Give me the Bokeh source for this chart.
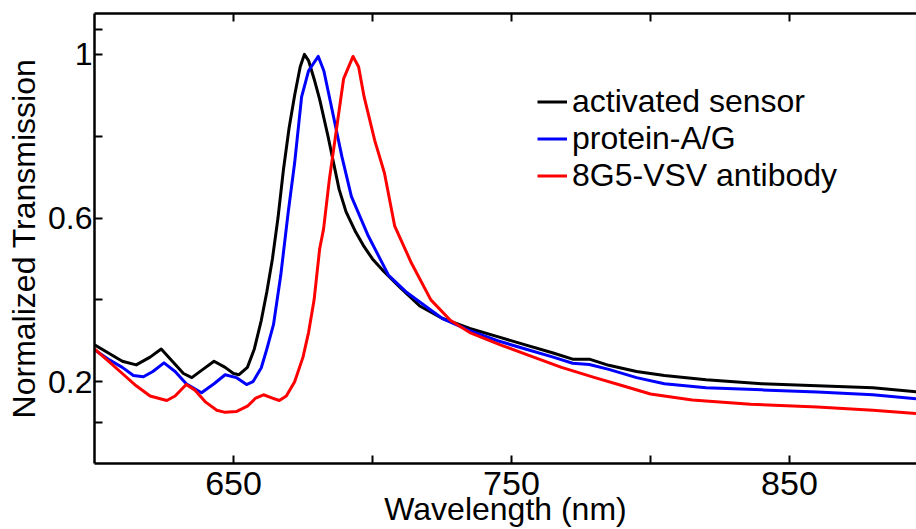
from bokeh.plotting import figure
from bokeh.models import Range1d, FixedTicker, LinearAxis, Legend, LegendItem, CustomJSTickFormatter
from bokeh.embed import file_html
from bokeh.resources import INLINE

# ---- data ----
wl_activated = [600, 605, 610, 615, 620, 624, 628, 632, 635, 639, 643, 647, 650, 652, 655, 657.5,
                660, 662, 664, 666, 668, 670, 672, 674, 675.5, 677, 679, 681, 684, 686, 688,
                690.5, 694, 697, 700, 704, 710, 717, 725, 735, 745, 755, 765, 772, 778, 785,
                795, 805, 820, 840, 860, 880, 896]
tr_activated = [0.29, 0.27, 0.25, 0.241, 0.26, 0.28, 0.25, 0.22, 0.21, 0.23, 0.25, 0.235, 0.22, 0.217,
                0.235, 0.28, 0.35, 0.42, 0.50, 0.60, 0.72, 0.82, 0.90, 0.97, 1.0, 0.985, 0.94, 0.89,
                0.80, 0.735, 0.67, 0.615, 0.565, 0.53, 0.50, 0.47, 0.43, 0.385, 0.355, 0.33, 0.31,
                0.29, 0.27, 0.255, 0.255, 0.24, 0.225, 0.215, 0.205, 0.195, 0.19, 0.185, 0.175]

wl_protein = [600, 605, 610, 614, 617.6, 621, 625, 629, 633, 638.5, 643, 647, 651, 654.7, 657, 660,
              662, 664.4, 667, 669.7, 672, 674.5, 677, 680.5, 682.5, 684.5, 689, 692.4, 698.5,
              705.8, 712, 718, 725, 735, 745, 755, 765, 772, 778, 785, 795, 805, 820, 840, 860,
              880, 896]
tr_protein = [0.278, 0.255, 0.235, 0.215, 0.212, 0.225, 0.246, 0.225, 0.195, 0.173, 0.195, 0.217,
              0.21, 0.193, 0.20, 0.234, 0.28, 0.34, 0.46, 0.615, 0.735, 0.896, 0.96, 0.995, 0.96,
              0.896, 0.75, 0.653, 0.556, 0.46, 0.42, 0.39, 0.355, 0.325, 0.30, 0.28, 0.26, 0.245,
              0.242, 0.23, 0.21, 0.195, 0.185, 0.18, 0.175, 0.168, 0.158]

wl_antibody = [600, 605, 610, 615, 620, 626, 629, 633, 636, 640, 644, 647, 651, 655, 658, 660.8,
               664, 666.5, 669, 672, 675, 677, 679, 681, 682.4, 684.5, 687, 689.6, 693, 695, 697,
               700.8, 704.3, 708, 714, 721, 728, 735, 746, 756, 768, 780, 790, 800, 815, 836,
               860, 880, 896]
tr_antibody = [0.28, 0.25, 0.22, 0.19, 0.165, 0.154, 0.165, 0.193, 0.18, 0.15, 0.13, 0.125, 0.127,
               0.14, 0.16, 0.168, 0.16, 0.154, 0.165, 0.2, 0.26, 0.32, 0.40, 0.525, 0.573, 0.695,
               0.815, 0.94, 0.995, 0.97, 0.896, 0.79, 0.71, 0.58, 0.49, 0.40, 0.35, 0.32, 0.29,
               0.265, 0.235, 0.21, 0.19, 0.17, 0.155, 0.145, 0.138, 0.13, 0.122]

series_names = ["activated sensor", "protein-A/G", "8G5-VSV antibody"]
series_colors = ["#000000", "#0000FF", "#FF0000"]

x_major = [650, 750, 850]
x_minor = [700, 800, 900]
y_major = [0.2, 0.6, 1.0]
y_minor = [0.1, 0.4, 0.8, 1.06]

FONT = "Liberation Sans"

p = figure(width=916, height=529, output_backend="svg", toolbar_location=None,
           x_range=Range1d(600, 895.7), y_range=Range1d(0, 1.1),
           min_border_left=94, min_border_right=0, min_border_top=13, min_border_bottom=66)
p.outline_line_color = None
p.xgrid.visible = False
p.ygrid.visible = False
p.background_fill_color = "white"
p.border_fill_color = "white"

renderers = []
for wl, tr, c in [(wl_activated, tr_activated, series_colors[0]),
                  (wl_protein, tr_protein, series_colors[1]),
                  (wl_antibody, tr_antibody, series_colors[2])]:
    r = p.line(wl, tr, line_color=c, line_width=3, line_join="round")
    renderers.append(r)

# bottom axis
xa = p.xaxis[0]
xa.ticker = FixedTicker(ticks=x_major, minor_ticks=x_minor)
xa.axis_line_width = 2.5
xa.major_tick_line_width = 2
xa.minor_tick_line_width = 2
xa.major_tick_in = 8
xa.major_tick_out = 0
xa.minor_tick_in = 8
xa.minor_tick_out = 0
xa.major_label_text_font = FONT
xa.major_label_text_font_size = "34px"
xa.major_label_text_color = "black"
xa.major_label_standoff = 8
xa.axis_label = "Wavelength (nm)"
xa.axis_label_text_font = FONT
xa.axis_label_text_font_size = "32px"
xa.axis_label_text_font_style = "normal"
xa.axis_label_text_color = "black"
xa.axis_label_standoff = -7

# left axis
ya = p.yaxis[0]
ya.ticker = FixedTicker(ticks=y_major, minor_ticks=y_minor)
ya.formatter = CustomJSTickFormatter(code="return String(Math.round(tick*10)/10)")
ya.axis_line_width = 2.5
ya.major_tick_line_width = 2
ya.minor_tick_line_width = 2
ya.major_tick_in = 8
ya.major_tick_out = 0
ya.minor_tick_in = 8
ya.minor_tick_out = 0
ya.major_label_text_font = FONT
ya.major_label_text_font_size = "32px"
ya.major_label_text_color = "black"
ya.major_label_standoff = 2
ya.axis_label = "Normalized Transmission"
ya.axis_label_text_font = FONT
ya.axis_label_text_font_size = "32px"
ya.axis_label_text_font_style = "normal"
ya.axis_label_text_color = "black"
ya.axis_label_standoff = 3

# top axis (box edge with inward ticks, no labels)
top = LinearAxis(ticker=FixedTicker(ticks=x_major + x_minor[:2]),
                 formatter=CustomJSTickFormatter(code="return ''"),
                 major_label_text_font_size="8px", major_label_standoff=0,
                 major_tick_in=8, major_tick_out=0, minor_tick_in=0, minor_tick_out=0,
                 axis_line_width=2.5, major_tick_line_width=2)
p.add_layout(top, "above")

legend = Legend(items=[LegendItem(label=n, renderers=[r]) for n, r in zip(series_names, renderers)],
                location=(443, 269), border_line_color=None, background_fill_alpha=0,
                padding=0, margin=0, spacing=0, glyph_width=30, glyph_height=37,
                label_standoff=5, label_text_font=FONT, label_text_font_size="32px",
                label_text_color="black")
p.add_layout(legend)

open("out.html", "w").write(file_html(p, INLINE))
